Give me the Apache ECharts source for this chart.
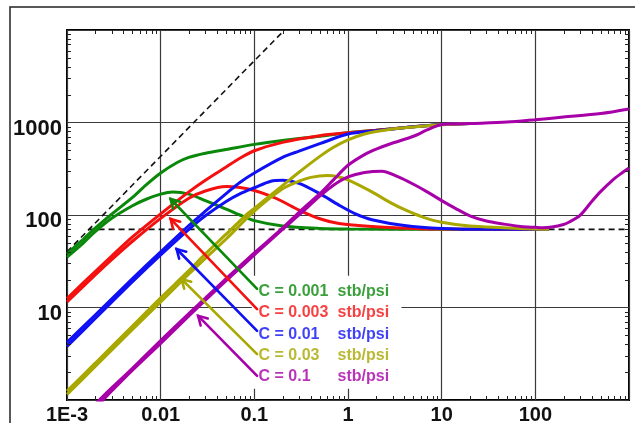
<!DOCTYPE html>
<html>
<head>
<meta charset="utf-8">
<script src="https://cdn.jsdelivr.net/npm/echarts@6/dist/echarts.min.js"></script>
<style>
  html, body { margin: 0; padding: 0; background: #fff; }
  #chart { width: 635px; height: 423px; }
</style>
</head>
<body>
<div id="chart"></div>
<script>
// Wellbore storage type curves: pressure change and derivative (psi) vs time (hr)

const storageLabels = ['C = 0.001', 'C = 0.003', 'C = 0.01', 'C = 0.03', 'C = 0.1'];
const unitLabel = 'stb/psi';
const curveColors = ['#0a880a', '#f51010', '#1010f5', '#a8a800', '#a800a8'];

const xTickLabels = ['1E-3', '0.01', '0.1', '1', '10', '100', ''];   // 1e-3 .. 1e3
const yTickLabels = ['', '10', '100', '1000', ''];                  // 1 .. 1e4

// C = 0.001 stb/psi
const dpC1 = [[0.001,38],[0.0015,55],[0.002,72],[0.003,102],[0.005,155],[0.007,212],[0.01,285],[0.015,370],[0.02,420],[0.03,465],[0.05,510],[0.1,580],[0.2,640],[0.5,710],[1,775],[2,825],[3,857],[5,900],[10,953],[20,975]];
const derC1 = [[0.001,35],[0.0015,50],[0.002,66],[0.003,92],[0.005,126],[0.007,148],[0.01,168],[0.0135,177],[0.02,168],[0.03,143],[0.05,116],[0.07,100],[0.1,87],[0.2,76],[0.5,71.5],[1,70.5],[10,70],[140,70]];

// C = 0.003 stb/psi
const dpC2 = [[0.001,12.5],[0.002,24.5],[0.003,36],[0.005,58],[0.01,103],[0.02,178],[0.03,238],[0.05,330],[0.07,410],[0.1,495],[0.2,610],[0.5,720],[1,775],[2,825],[3,857],[5,900],[10,953],[20,975]];
const derC2 = [[0.001,11.5],[0.002,22.5],[0.003,33],[0.005,52],[0.01,92],[0.02,152],[0.03,182],[0.05,203],[0.07,198],[0.1,184],[0.15,160],[0.2,140],[0.3,113],[0.5,91],[0.8,81],[1.8,75],[5,71.5],[10,70.5],[140,70]];

// C = 0.01 stb/psi
const dpC3 = [[0.001,4.2],[0.002,8.3],[0.005,20.5],[0.01,40],[0.02,77],[0.03,110],[0.05,170],[0.07,225],[0.1,285],[0.2,420],[0.3,490],[0.5,590],[1,750],[2,815],[3,852],[5,900],[10,953],[20,975]];
const derC3 = [[0.001,3.8],[0.002,7.6],[0.005,19],[0.01,37],[0.02,70],[0.03,98],[0.05,140],[0.07,169],[0.1,197],[0.15,232],[0.2,238],[0.3,220],[0.5,170],[0.8,128],[1.2,103],[1.8,89],[4,77],[10,71.5],[30,70],[140,70]];

// C = 0.03 stb/psi
const dpC4 = [[0.001,1.25],[0.002,2.5],[0.005,6.3],[0.01,12.7],[0.02,25],[0.03,38],[0.05,62],[0.08,98],[0.1,118],[0.2,208],[0.3,290],[0.5,430],[0.7,540],[1,650],[1.5,750],[2,800],[3,850],[5,895],[10,945],[20,975]];
const derC4 = [[0.001,1.15],[0.002,2.3],[0.005,5.8],[0.01,11.5],[0.02,23],[0.03,34],[0.05,55],[0.1,110],[0.2,192],[0.3,232],[0.4,255],[0.6,267],[0.8,258],[1,240],[1.8,178],[2.8,137],[4.2,112],[6.3,95],[10,83.5],[20,76],[45,73],[100,70.5],[140,70]];

// C = 0.1 stb/psi (late-time response common to all curves)
const dpC5 = [[0.002,0.9],[0.003,1.35],[0.005,2.2],[0.01,4.4],[0.02,8.6],[0.03,12.6],[0.05,20.5],[0.1,39],[0.2,72],[0.3,107],[0.5,170],[0.7,240],[1,345],[1.5,450],[2,515],[3,600],[5,710],[7,830],[10,950],[20,975],[50,1010],[100,1072],[200,1145],[500,1250],[1000,1400]];
const derC5 = [[0.0022,0.9],[0.003,1.25],[0.005,2.1],[0.01,4.1],[0.02,8.1],[0.05,19.5],[0.1,37],[0.2,70],[0.3,100],[0.5,160],[0.7,210],[1,258],[1.5,288],[2.3,298],[3.4,260],[5,215],[7,178],[10,143],[14,118],[20,98],[30,86],[45,80],[70,75],[100,73.5],[120,72.8],[150,74],[200,79],[230,84],[300,99],[400,140],[500,180],[660,236],[800,275],[1000,322]];

const pressureCurves = [dpC1, dpC2, dpC3, dpC4, dpC5];
const derivativeCurves = [derC1, derC2, derC3, derC4, derC5];

// reference lines: unit slope and radial-flow derivative level
const unitSlopeLine = [[0.001,40],[0.21,10000]];
const radialFlowLine = [[0.0017,70],[1000,70]];

// legend notes: arrow tail -> arrow tip on each curve, text rows
const arrowTails = [[0.107,15.9],[0.107,9.6],[0.107,5.6],[0.107,3.13],[0.107,1.82]];
const arrowTips  = [[0.01276,149],[0.01276,90.7],[0.01479,42.9],[0.0167,20.3],[0.0251,8.13]];
const noteRowsY = [14.8, 8.83, 5.15, 3.0, 1.79];
const noteTextX = 0.111;
const noteUnitX = 0.774;
const noteBox = [[0.094,1.32],[3.72,22]];

// minor tick positions (2..9 in each decade)
const minorTicks = [];
for (let e = -3; e < 3; e++) for (let m = 2; m <= 9; m++) minorTicks.push([m * Math.pow(10, e), 1, 0]);
for (let e = 0; e < 4; e++) for (let m = 2; m <= 9; m++) minorTicks.push([0.001, m * Math.pow(10, e), 1]);

function decadeIndex(v, lo) { return Math.round(Math.log10(v)) - lo; }

const chart = echarts.init(document.getElementById('chart'), null, { renderer: 'canvas' });

const series = [];

// dashed reference lines, plus the white panel behind the notes
series.push({
  type: 'line', data: unitSlopeLine, symbol: 'none', silent: true, z: 2,
  lineStyle: { color: '#111', width: 1.6, type: [6, 4] },
  markArea: {
    silent: true,
    itemStyle: { color: '#ffffff', opacity: 1 },
    label: { show: false },
    data: [[{ coord: noteBox[0] }, { coord: noteBox[1] }]]
  }
});
series.push({
  type: 'line', data: radialFlowLine, symbol: 'none', silent: true, z: 2,
  lineStyle: { color: '#111', width: 1.6, type: [6, 4] }
});

for (let i = 0; i < 5; i++) {
  series.push({
    type: 'line', name: storageLabels[i] + ' dp', data: pressureCurves[i],
    symbol: 'none', smooth: 0.3, z: 3,
    lineStyle: { color: curveColors[i], width: 3 }
  });
  series.push({
    type: 'line', name: storageLabels[i] + ' der', data: derivativeCurves[i],
    symbol: 'none', smooth: 0.3, z: 3,
    lineStyle: { color: curveColors[i], width: 3 }
  });
}

// minor ticks on all four sides of the plot frame
series.push({
  type: 'custom', silent: true, z: 4,
  data: minorTicks,
  encode: { x: 0, y: 1 },
  renderItem: function (params, api) {
    const cs = params.coordSys;
    const kind = api.value(2);
    const L = 4;
    const st = { stroke: '#222', lineWidth: 1 };
    if (kind === 0) {
      const px = Math.round(api.coord([api.value(0), 10])[0]) + 0.5;
      return { type: 'group', children: [
        { type: 'line', shape: { x1: px, y1: cs.y + cs.height, x2: px, y2: cs.y + cs.height - L }, style: st },
        { type: 'line', shape: { x1: px, y1: cs.y, x2: px, y2: cs.y + L }, style: st }
      ]};
    }
    const py = Math.round(api.coord([1, api.value(1)])[1]) + 0.5;
    return { type: 'group', children: [
      { type: 'line', shape: { x1: cs.x, y1: py, x2: cs.x + L, y2: py }, style: st },
      { type: 'line', shape: { x1: cs.x + cs.width, y1: py, x2: cs.x + cs.width - L, y2: py }, style: st }
    ]};
  }
});

// arrows from the notes to the curves
series.push({
  type: 'custom', silent: true, z: 6,
  data: arrowTails.map((t, i) => [t[0], t[1], arrowTips[i][0], arrowTips[i][1], i]),
  encode: { x: 0, y: 1 },
  renderItem: function (params, api) {
    const a = api.coord([api.value(0), api.value(1)]);
    const b = api.coord([api.value(2), api.value(3)]);
    const col = curveColors[api.value(4)];
    const ang = Math.atan2(a[1] - b[1], a[0] - b[0]);
    const hl = 10, spread = 0.52;
    const h1 = [b[0] + hl * Math.cos(ang + spread), b[1] + hl * Math.sin(ang + spread)];
    const h2 = [b[0] + hl * Math.cos(ang - spread), b[1] + hl * Math.sin(ang - spread)];
    const st = { stroke: col, lineWidth: 2.6, fill: null, lineCap: 'round', lineJoin: 'miter' };
    return { type: 'group', children: [
      { type: 'line', shape: { x1: a[0], y1: a[1], x2: b[0], y2: b[1] }, style: st },
      { type: 'polyline', shape: { points: [h1, b, h2] }, style: st }
    ]};
  }
});

// note texts
const noteData = [];
for (let i = 0; i < 5; i++) {
  noteData.push({ value: [noteTextX, noteRowsY[i]], name: storageLabels[i], label: { color: curveColors[i] } });
  noteData.push({ value: [noteUnitX, noteRowsY[i]], name: unitLabel, label: { color: curveColors[i] } });
}
series.push({
  type: 'scatter', silent: true, z: 7, symbolSize: 0, data: noteData,
  label: {
    show: true, position: 'right', distance: 0,
    formatter: p => p.name,
    fontFamily: 'Liberation Sans, Arial, sans-serif', fontWeight: 'bold', fontSize: 16
  }
});

chart.setOption({
  animation: false,
  backgroundColor: '#fff',
  grid: {
    left: 67, right: 6, top: 30, bottom: 23, containLabel: false, outerBoundsMode: 'none',
    show: true, borderColor: '#000', borderWidth: 2, backgroundColor: 'transparent'
  },
  xAxis: {
    type: 'log', logBase: 10, min: 0.001, max: 1000,
    axisLine: { show: false }, axisTick: { show: false },
    splitLine: { show: true, lineStyle: { color: '#3a3a3a', width: 1.2 } },
    axisLabel: {
      margin: 5, color: '#111', fontWeight: 'bold', fontSize: 20,
      fontFamily: 'Liberation Sans, Arial, sans-serif',
      showMinLabel: true, showMaxLabel: true,
      formatter: v => xTickLabels[decadeIndex(v, -3)] || ''
    }
  },
  yAxis: {
    type: 'log', logBase: 10, min: 1, max: 10000,
    axisLine: { show: false }, axisTick: { show: false },
    splitLine: { show: true, lineStyle: { color: '#3a3a3a', width: 1.2 } },
    axisLabel: {
      margin: 5, color: '#111', fontWeight: 'bold', fontSize: 22,
      fontFamily: 'Liberation Sans, Arial, sans-serif',
      verticalAlign: 'top', lineHeight: 12,
      formatter: v => yTickLabels[decadeIndex(v, 0)] || ''
    }
  },
  graphic: [{
    type: 'rect', silent: true, z: 0,
    shape: { x: 10, y: 7, width: 700, height: 500 },
    style: { fill: null, stroke: '#222', lineWidth: 1.5 }
  }],
  series: series
});
</script>
</body>
</html>
